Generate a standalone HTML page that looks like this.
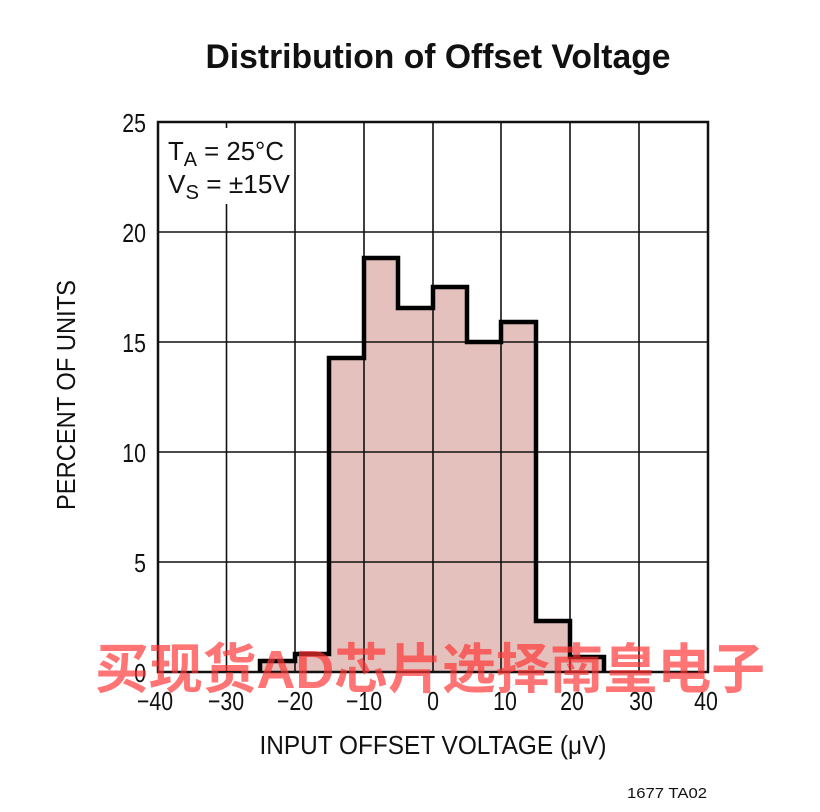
<!DOCTYPE html>
<html><head><meta charset="utf-8"><style>
html,body{margin:0;padding:0;background:#fff;}
svg{display:block;}
text{font-family:"Liberation Sans Narrow","Liberation Sans",sans-serif;fill:#111;}
</style></head><body>
<svg width="820" height="812" viewBox="0 0 820 812" xmlns="http://www.w3.org/2000/svg">
<text x="438" y="68" text-anchor="middle" font-size="34" font-weight="bold" textLength="465" lengthAdjust="spacingAndGlyphs">Distribution of Offset Voltage</text>
<path d="M260,672 V661 H295 V654 H329 V358 H364 V258 H398 V308 H433 V287 H467 V342 H501 V322 H536 V621 H570 V657 H604 V672 Z" fill="#e4c1bc"/>
<g stroke="#111" stroke-width="1.6">
<line x1="226.5" y1="122" x2="226.5" y2="672"/>
<line x1="295" y1="122" x2="295" y2="672"/>
<line x1="364" y1="122" x2="364" y2="672"/>
<line x1="433" y1="122" x2="433" y2="672"/>
<line x1="501" y1="122" x2="501" y2="672"/>
<line x1="570" y1="122" x2="570" y2="672"/>
<line x1="639" y1="122" x2="639" y2="672"/>
<line x1="158" y1="232" x2="708" y2="232"/>
<line x1="158" y1="342" x2="708" y2="342"/>
<line x1="158" y1="452" x2="708" y2="452"/>
<line x1="158" y1="562" x2="708" y2="562"/>
</g>
<rect x="165" y="128" width="125" height="76" fill="#fff"/>
<rect x="158" y="122" width="550" height="550" fill="none" stroke="#111" stroke-width="2.5"/>
<path d="M260,672 V661 H295 V654 H329 V358 H364 V258 H398 V308 H433 V287 H467 V342 H501 V322 H536 V621 H570 V657 H604 V672" fill="none" stroke="#000" stroke-width="4.5"/>
<text x="168" y="160" font-size="26" textLength="116" lengthAdjust="spacingAndGlyphs">T<tspan font-size="20" dy="6">A</tspan><tspan dy="-6"> = 25°C</tspan></text>
<text x="168" y="193" font-size="26" textLength="122" lengthAdjust="spacingAndGlyphs">V<tspan font-size="20" dy="6">S</tspan><tspan dy="-6"> = ±15V</tspan></text>
<g font-size="26" text-anchor="end">
<g transform="translate(146,0) scale(0.82,1)">
<text x="0" y="132">25</text>
<text x="0" y="242">20</text>
<text x="0" y="352">15</text>
<text x="0" y="462">10</text>
<text x="0" y="572">5</text>
<text x="0" y="682">0</text>
</g>
</g>
<g font-size="26" text-anchor="middle">
<text transform="translate(155,710) scale(0.82,1)">−40</text>
<text transform="translate(226,710) scale(0.82,1)">−30</text>
<text transform="translate(295,710) scale(0.82,1)">−20</text>
<text transform="translate(364,710) scale(0.82,1)">−10</text>
<text transform="translate(433,710) scale(0.82,1)">0</text>
<text transform="translate(505,710) scale(0.82,1)">10</text>
<text transform="translate(572,710) scale(0.82,1)">20</text>
<text transform="translate(641,710) scale(0.82,1)">30</text>
<text transform="translate(706,710) scale(0.82,1)">40</text>
</g>
<text x="433" y="754" text-anchor="middle" font-size="26" textLength="347" lengthAdjust="spacingAndGlyphs">INPUT OFFSET VOLTAGE (μV)</text>
<text transform="translate(75,395) rotate(-90)" text-anchor="middle" font-size="26" textLength="230" lengthAdjust="spacingAndGlyphs">PERCENT OF UNITS</text>
<text x="707" y="798" text-anchor="end" font-size="15" textLength="80" lengthAdjust="spacingAndGlyphs">1677 TA02</text>
<text x="95" y="688" font-size="54" font-weight="bold" textLength="670" lengthAdjust="spacingAndGlyphs" style="fill:rgba(255,50,50,0.68);font-family:'Liberation Sans','Noto Sans CJK SC',sans-serif">买现货AD芯片选择南皇电子</text>
</svg>
</body></html>
